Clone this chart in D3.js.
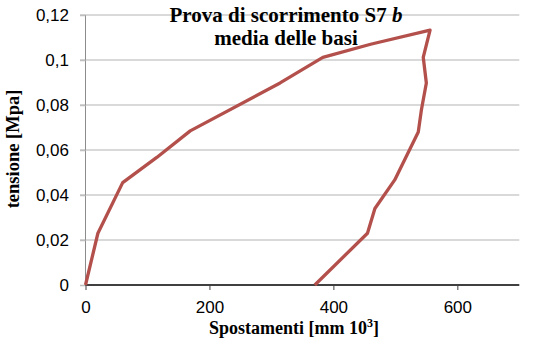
<!DOCTYPE html>
<html><head><meta charset="utf-8">
<script src="https://cdn.jsdelivr.net/npm/d3@7/dist/d3.min.js"></script>
<style>html,body{margin:0;padding:0;background:#fff;}svg{display:block;}</style>
</head><body>
<svg id="chart" width="540" height="349"></svg>
<script>
// Data
const spostamenti = [0, 20, 60, 115, 169, 314, 383, 460, 556, 545, 550, 542, 537, 499, 467, 455, 370];
const tensione    = [0, 0.023, 0.0455, 0.0567, 0.0685, 0.0898, 0.1012, 0.107, 0.1133, 0.1012, 0.0898, 0.0778, 0.068, 0.0467, 0.034, 0.023, 0];
const xTicks = [0, 200, 400, 600];
const yTicks = [0, 0.02, 0.04, 0.06, 0.08, 0.1, 0.12];
const titleLine1 = "Prova di scorrimento S7 ";
const titleItalic = "b";
const titleLine2 = "media delle basi";
const xTitle = "Spostamenti [mm 10";
const xTitleSup = "3";
const yTitle = "tensione [Mpa]";

const svg = d3.select("#chart");
const x = d3.scaleLinear().domain([0, 700]).range([85.5, 519.3]);
const y = d3.scaleLinear().domain([0, 0.12]).range([285, 15]);
const loc = d3.formatLocale({decimal: ",", thousands: ".", grouping: [3], currency: ["", ""]});
const fy = loc.format(".2~f");

// gridlines
svg.append("g").selectAll("line").data(yTicks.filter(d => d > 0)).join("line")
  .attr("x1", 80).attr("x2", x(700))
  .attr("y1", d => y(d)).attr("y2", d => y(d))
  .attr("stroke", "#d9d9d9").attr("stroke-width", 1.8);

// y axis
const gy = svg.append("g").attr("transform", `translate(${x(0)},0)`)
  .call(d3.axisLeft(y).tickValues(yTicks).tickSize(5.5).tickPadding(11).tickFormat(fy));
gy.select(".domain").attr("stroke", "#8c8c8c").attr("d", `M0,${y(0.12)}V${y(0)}`);
gy.selectAll(".tick line").attr("stroke", "#bfbfbf").attr("stroke-width", 1.5);
gy.selectAll("text").attr("font-family", "Liberation Sans, Arial, sans-serif")
  .attr("font-size", 17).attr("fill", "#000").attr("dy", "0.35em");

// x axis
const gx = svg.append("g").attr("transform", `translate(0,${y(0)})`)
  .call(d3.axisBottom(x).tickValues(xTicks).tickSize(5).tickPadding(11).tickFormat(d3.format("d")));
gx.select(".domain").attr("stroke", "#000").attr("stroke-width", 1.5).attr("d", `M${x(0)},0H${x(700)}`);
gx.selectAll(".tick line").attr("stroke", "#404040");
gx.selectAll("text").attr("font-family", "Liberation Sans, Arial, sans-serif")
  .attr("font-size", 17).attr("fill", "#000");

// series line
const pts = spostamenti.map((v, i) => [v, tensione[i]]);
svg.append("path").datum(pts)
  .attr("fill", "none").attr("stroke", "#B3504B").attr("stroke-width", 3.3)
  .attr("stroke-linejoin", "round")
  .attr("d", d3.line().x(d => x(d[0])).y(d => y(d[1])));

// title
const serif = "Liberation Serif, Times New Roman, serif";
const t1 = svg.append("text").attr("x", 286).attr("y", 22).attr("text-anchor", "middle")
  .attr("font-family", serif).attr("font-weight", "bold").attr("font-size", 21);
t1.append("tspan").text(titleLine1);
t1.append("tspan").attr("font-style", "italic").text(titleItalic);
svg.append("text").attr("x", 286).attr("y", 45).attr("text-anchor", "middle")
  .attr("font-family", serif).attr("font-weight", "bold").attr("font-size", 21).text(titleLine2);

// axis titles
const xt = svg.append("text").attr("x", 294).attr("y", 334).attr("text-anchor", "middle")
  .attr("font-family", serif).attr("font-weight", "bold").attr("font-size", 18);
xt.append("tspan").text(xTitle);
xt.append("tspan").attr("font-size", 12).attr("dy", -7).text(xTitleSup);
xt.append("tspan").attr("dy", 7).text("]");

svg.append("text").attr("transform", "translate(19,149) rotate(-90)").attr("text-anchor", "middle")
  .attr("font-family", serif).attr("font-weight", "bold").attr("font-size", 18.5).text(yTitle);
</script>
</body></html>
